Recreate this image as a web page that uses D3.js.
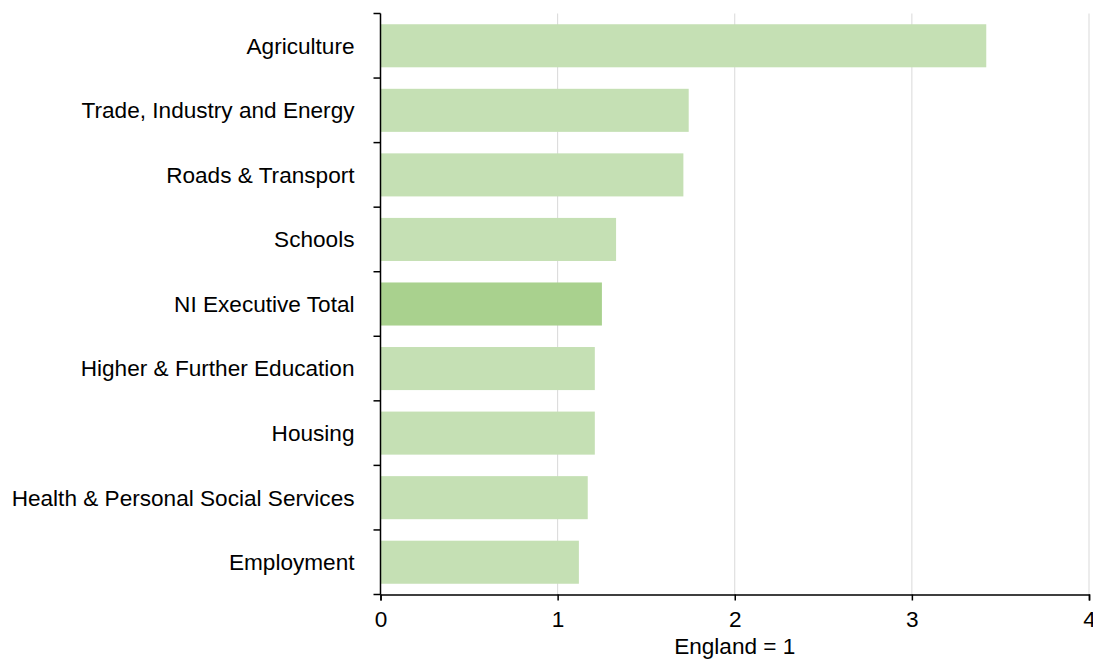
<!DOCTYPE html>
<html>
<head>
<meta charset="utf-8">
<script src="https://cdn.jsdelivr.net/npm/d3@7"></script>
<style>
  body { margin: 0; background: #fff; }
  text { font-family: "Liberation Sans", Arial, sans-serif; fill: #000; }
</style>
</head>
<body>
<div class="canvas"></div>
<script>
const categories = [
    'Agriculture',
    'Trade, Industry and Energy',
    'Roads & Transport',
    'Schools',
    'NI Executive Total',
    'Higher & Further Education',
    'Housing',
    'Health & Personal Social Services',
    'Employment'
];
const values = [3.42, 1.74, 1.71, 1.33, 1.25, 1.21, 1.21, 1.17, 1.12];
const highlight = 'NI Executive Total';
const xTicks = [0, 1, 2, 3, 4];
const xTitle = 'England = 1';

const dims = {width: 1093, height: 661};
const margin = {top: 13.5, right: 4, bottom: 66.5, left: 380.5};
const fontSize = 22.6;

const svg = d3.select('.canvas')
    .append('svg')
    .attr('width', dims.width)
    .attr('height', dims.height);

const x = d3.scaleLinear()
    .domain([0, 4])
    .range([margin.left, dims.width - margin.right]);

const y = d3.scaleBand()
    .domain(categories)
    .range([margin.top, dims.height - margin.bottom])
    .paddingInner(0.333)
    .paddingOuter(0.1665);

// gridlines
svg.append('g')
    .selectAll('line')
    .data(xTicks.slice(1))
    .enter().append('line')
        .attr('x1', d => x(d))
        .attr('x2', d => x(d))
        .attr('y1', margin.top)
        .attr('y2', dims.height - margin.bottom)
        .attr('stroke', '#d9d9d9')
        .attr('stroke-width', 1);

// bars
svg.append('g')
    .selectAll('rect')
    .data(categories)
    .enter().append('rect')
        .attr('x', x(0))
        .attr('y', d => y(d))
        .attr('width', (d, i) => x(values[i]) - x(0))
        .attr('height', y.bandwidth())
        .attr('fill', d => d === highlight ? '#a9d18e' : '#c5e0b4');

// y axis (ticks at band boundaries)
const yAxis = svg.append('g');
yAxis.append('line')
    .attr('x1', margin.left).attr('x2', margin.left)
    .attr('y1', margin.top).attr('y2', dims.height - margin.bottom)
    .attr('stroke', '#000').attr('stroke-width', 1.5);
const step = y.step();
yAxis.selectAll('.ytick')
    .data(d3.range(categories.length + 1))
    .enter().append('line')
        .attr('class', 'ytick')
        .attr('x1', margin.left - 7).attr('x2', margin.left)
        .attr('y1', i => margin.top + i * step)
        .attr('y2', i => margin.top + i * step)
        .attr('stroke', '#000').attr('stroke-width', 1.5);
yAxis.selectAll('text')
    .data(categories)
    .enter().append('text')
        .attr('x', margin.left - 26)
        .attr('y', d => y(d) + y.bandwidth() / 2)
        .attr('dy', '0.35em')
        .attr('text-anchor', 'end')
        .attr('font-size', fontSize)
        .text(d => d);

// x axis
const xAxis = svg.append('g')
    .attr('transform', `translate(0, ${dims.height - margin.bottom})`)
    .call(d3.axisBottom(x).tickValues(xTicks).tickFormat(d3.format('d')).tickSizeOuter(0).tickSize(6).tickPadding(10));
xAxis.select('.domain').attr('stroke', '#000').attr('stroke-width', 1.5);
xAxis.selectAll('.tick line').attr('stroke', '#000').attr('stroke-width', 1.5);
xAxis.selectAll('text')
    .attr('font-size', fontSize)
    .attr('font-family', '"Liberation Sans", Arial, sans-serif')
    .attr('fill', '#000');

svg.append('text')
    .attr('x', x(2))
    .attr('y', 654)
    .attr('text-anchor', 'middle')
    .attr('font-size', fontSize)
    .text(xTitle);
</script>
</body>
</html>
